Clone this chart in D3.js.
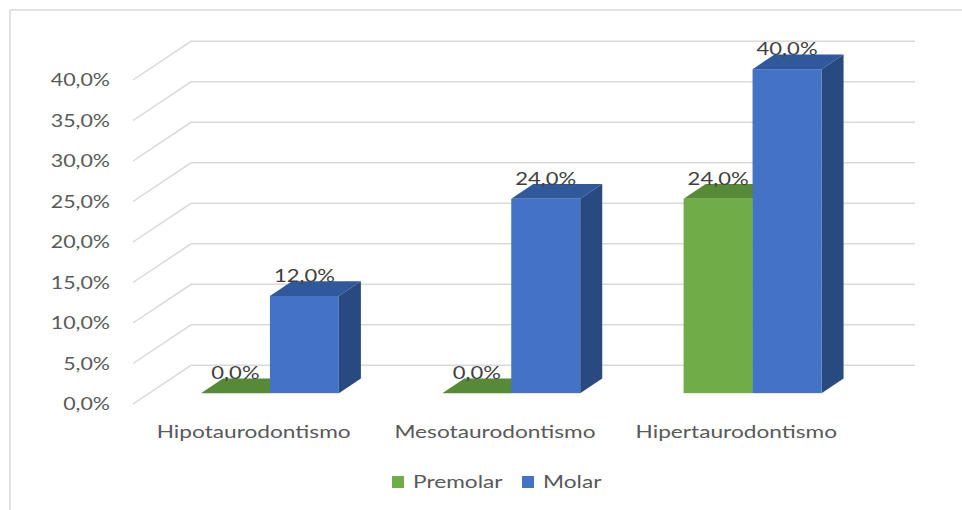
<!DOCTYPE html>
<html>
<head>
<meta charset="utf-8">
<script src="https://cdn.jsdelivr.net/npm/d3@7"></script>
<style>
  html, body { margin: 0; padding: 0; background: #fff; }
  svg { display: block; }
  text { font-family: Lato, "Noto Sans", sans-serif; }
</style>
</head>
<body>
<svg id="chart" width="962" height="510"></svg>
<script>
// Tipo de taurodontismo por grupo dentario
const categories = ["Hipotaurodontismo", "Mesotaurodontismo", "Hipertaurodontismo"];
const seriesNames = ["Premolar", "Molar"];
const premolar = [0, 0, 24];
const molar = [12, 24, 40];
const tickValues = [0, 5, 10, 15, 20, 25, 30, 35, 40];

const series = [
  { name: seriesNames[0], values: premolar, front: "#70AD47", top: "#578A37", side: "#4A7530" },
  { name: seriesNames[1], values: molar,    front: "#4472C4", top: "#30599C", side: "#284A80" }
];

const es = d3.formatLocale({ decimal: ",", thousands: ".", grouping: [3], currency: ["", " €"], percent: "%" });
const pct = v => es.format(".1%")(v / 100);

const svg = d3.select("#chart");
const W = 962, H = 510;
const SX = 1.26;              // horizontal stretch of the text
const DX = 58, DY = 38.7;     // depth of the 3-D box
const Z0 = 0.28, Z1 = 0.66;   // depth span of the columns

const x = d3.scaleBand().domain(categories).range([133, 857]).paddingInner(0).paddingOuter(0);
const xs = d3.scaleBand().domain(seriesNames).range([0, x.bandwidth()]).paddingInner(0).paddingOuter(0.75);
const y = d3.scaleLinear().domain([0, 40]).range([404, 80]);

// project a point (front x, value, depth) onto the page
const P = (px, v, z) => [px + z * DX, y(v) - z * DY];
const poly = pts => pts.map(p => p.join(",")).join(" ");

function stretchedText(g, tx, ty, str, opts) {
  const t = g.append("g").attr("transform", `translate(${tx},${ty}) scale(${SX},1)`)
    .append("text")
    .attr("text-anchor", opts.anchor || "middle")
    .attr("font-size", opts.size || 18)
    .attr("fill", opts.fill || "#595959")
    .text(str);
  if (opts.baseline) t.attr("dominant-baseline", opts.baseline);
  return t;
}

// outer frame
svg.append("line").attr("x1", 10).attr("y1", 10).attr("x2", 10).attr("y2", H)
  .attr("stroke", "#d9d9d9").attr("stroke-width", 1.5);
svg.append("line").attr("x1", 10).attr("y1", 10).attr("x2", W).attr("y2", 10)
  .attr("stroke", "#d9d9d9").attr("stroke-width", 1.5);

// gridlines: side-wall diagonal + back-wall horizontal
const xL = x.range()[0], xR = x.range()[1];
const grid = svg.append("g");
tickValues.forEach(v => {
  const a = P(xL, v, 0), b = P(xL, v, 1), c = P(xR, v, 1);
  grid.append("polyline").attr("points", poly([a, b, c]))
    .attr("fill", "none").attr("stroke", "#d9d9d9").attr("stroke-width", 1.5);
});

// value axis labels
const yAxis = svg.append("g");
tickValues.forEach(v => {
  stretchedText(yAxis, 110, y(v) + 2, pct(v), { anchor: "end", baseline: "middle", size: 17 });
});

// columns
const bars = svg.append("g");
const labels = svg.append("g");
categories.forEach((cat, i) => {
  series.forEach(s => {
    const v = s.values[i];
    const x0 = x(cat) + xs(s.name), x1 = x0 + xs.bandwidth();
    const g = bars.append("g");
    // top face
    g.append("polygon").attr("points", poly([P(x0, v, Z0), P(x1, v, Z0), P(x1, v, Z1), P(x0, v, Z1)]))
      .attr("fill", s.top);
    if (v > 0) {
      // side face
      g.append("polygon").attr("points", poly([P(x1, 0, Z0), P(x1, v, Z0), P(x1, v, Z1), P(x1, 0, Z1)]))
        .attr("fill", s.side);
      // front face
      const f0 = P(x0, v, Z0), f1 = P(x1, 0, Z0);
      g.append("rect").attr("x", f0[0]).attr("y", f0[1])
        .attr("width", f1[0] - f0[0]).attr("height", f1[1] - f0[1])
        .attr("fill", s.front);
    }
    // value label: centred on the front face, resting on the back edge of the top
    const lx = P((x0 + x1) / 2, v, Z0)[0];
    const ly = P((x0 + x1) / 2, v, Z1)[1];
    stretchedText(labels, lx, ly + 0.5, pct(v), { fill: "#404040", size: 17.5 });
  });
});

// category labels
const xAxis = svg.append("g");
categories.forEach(cat => {
  stretchedText(xAxis, x(cat) + x.bandwidth() / 2, 438, cat, { size: 18 });
});

// legend
const legend = svg.append("g");
const legendX = [392, 522];
series.forEach((s, i) => {
  legend.append("rect").attr("x", legendX[i]).attr("y", 476).attr("width", 12).attr("height", 12)
    .attr("fill", s.front);
  stretchedText(legend, legendX[i] + 21, 488, s.name, { anchor: "start", size: 18 });
});
</script>
</body>
</html>
